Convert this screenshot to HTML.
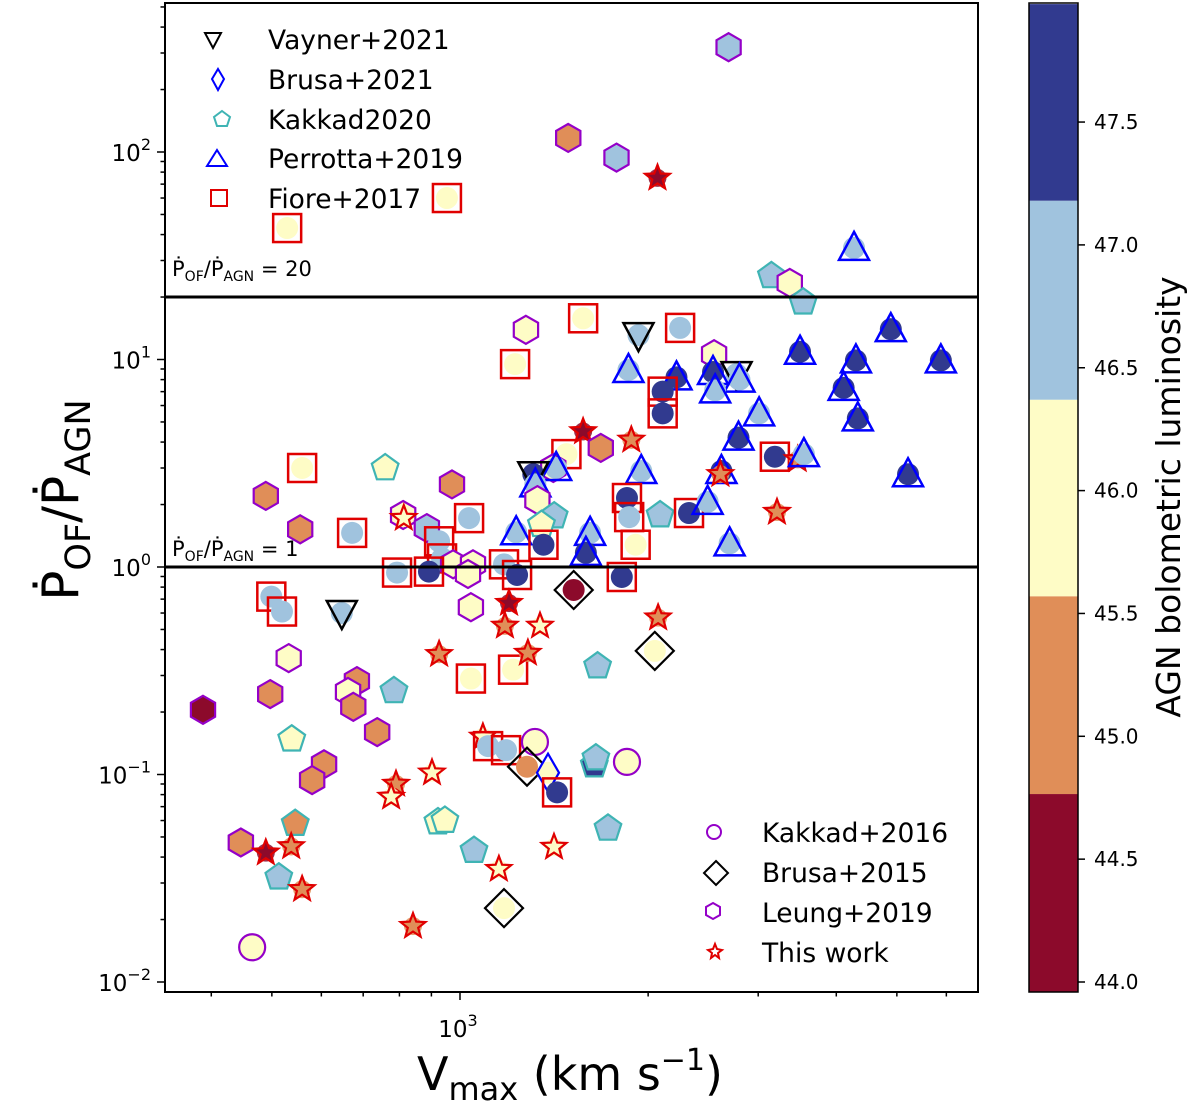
<!DOCTYPE html>
<html><head><meta charset="utf-8"><style>
body{margin:0;background:#fff;width:1200px;height:1109px;overflow:hidden}
svg{display:block;font-family:"DejaVu Sans","Liberation Sans",sans-serif}
</style></head><body>
<svg id="chart" width="1200" height="1109" viewBox="0 0 1200 1109">
<rect x="0" y="0" width="1200" height="1109" fill="#fff"/>
<g id="marks"></g>
<g id="axes"></g>
</svg>
<script>
const vmax=[2690,1490,1780,2070,953,529,4270,3150,3370,3540,1275,1574,1225,1930,2250,1860,2220,2550,2540,2770,2800,2560,2110,2110,3010,2790,3500,4300,4890,5880,4110,4330,5210,1574,1680,1880,1480,1410,1425,1310,1320,1330,1950,2620,2610,3190,3470,3550,1415,1350,1230,1615,1590,1360,1850,1865,2090,2325,2490,2700,3215,1910,1176,1234,1520,1815,1198,1180,1343,2075,559,759,489,971,555,672,811,813,885,1034,926,936,975,1049,1030,793,892,499,519,647,1041,532,497,388,684,662,675,737,784,538,606,580,926,1041,1088,902,790,776,545,922,946,1053,446,489,537,513,559,841,465,1216,1284,2050,1660,1109,1185,1318,1280,1383,1430,1640,1650,1850,1725,1414,1154,1176];
const ratio=[320,117,94,75,60,43,34.5,25.3,23.4,18.9,13.9,15.8,9.5,13.1,14.2,8.9,8.2,10.6,8.7,8.5,8.0,7.1,7.0,5.5,5.5,4.2,10.9,9.9,14.0,9.9,7.3,5.2,2.8,4.5,3.75,4.1,3.5,3.0,3.0,2.8,2.5,2.1,2.9,2.9,2.8,3.4,3.3,3.5,1.76,1.6,1.47,1.46,1.17,1.28,2.15,1.74,1.78,1.82,2.06,1.3,1.84,1.28,1.03,0.915,0.775,0.895,0.67,0.52,0.52,0.57,3.0,3.0,2.2,2.5,1.52,1.46,1.78,1.72,1.54,1.72,1.33,1.1,1.03,1.03,0.925,0.94,0.95,0.72,0.61,0.6,0.64,0.364,0.244,0.205,0.282,0.25,0.212,0.16,0.253,0.148,0.112,0.094,0.38,0.29,0.152,0.102,0.09,0.078,0.058,0.059,0.06,0.043,0.047,0.042,0.045,0.032,0.028,0.0186,0.0147,0.32,0.385,0.394,0.333,0.137,0.131,0.1435,0.109,0.102,0.082,0.111,0.12,0.115,0.055,0.0447,0.035,0.0227];
const sample=["hex","hex","hex","star","sq","sq","tri","pent","hex","pent","hex","sq","sq","vtri","sq","tri","tri","hex","tri","vtri","tri","tri","sq","sq","tri","tri","tri","tri","tri","tri","tri","tri","tri","star","hex","star","sq","hex","tri","vtri","tri","hex","tri","tri","star","sq","star","tri","pent","pent","tri","tri","tri","sq","sq","sq","pent","sq","tri","tri","star","sq","sq","sq","dia","sq","star","star","star","star","sq","pent","hex","hex","hex","sq","hex","star","hex","sq","sq","sq","hex","hex","hex","sq","sq","sq","sq","vtri","hex","hex","hex","hex","hex","hex","hex","hex","pent","pent","hex","hex","star","sq","star","star","star","star","pent","pent","pent","pent","hex","star","star","pent","star","star","circ","sq","star","dia","pent","sq","sq","circ","dia","dia2","sq","pent","pent","circ","pent","star","star","dia"];
const lum=[46.8,45.2,46.8,44.4,46.0,46.0,46.8,46.8,46.0,46.8,46.0,46.0,46.0,46.8,46.8,46.8,47.6,46.0,47.6,46.8,46.8,46.8,47.6,47.6,46.8,47.6,47.6,47.6,47.6,47.6,47.6,47.6,47.6,44.4,45.2,45.2,46.0,46.0,46.8,47.6,46.8,46.0,46.8,47.6,45.2,47.6,45.2,46.8,46.8,46.0,46.8,46.8,47.6,47.6,47.6,46.8,46.8,47.6,46.8,46.8,45.2,46.0,46.8,47.6,44.4,47.6,44.4,45.2,46.0,45.2,46.0,46.0,45.2,45.2,45.2,46.8,46.0,46.0,46.8,46.8,46.8,46.8,46.0,46.0,46.0,46.8,47.6,46.8,46.8,46.8,46.0,46.0,45.2,44.4,45.2,46.0,45.2,45.2,46.8,46.0,45.2,45.2,45.2,46.0,46.0,46.0,45.2,46.0,45.2,46.0,46.0,46.8,45.2,44.4,45.2,46.8,45.2,45.2,46.0,46.0,45.2,46.0,46.8,46.8,46.8,46.0,45.2,46.0,47.6,47.6,46.8,46.0,46.8,46.0,46.0,46.0];
const cbTicks=[44.0,44.5,45.0,45.5,46.0,46.5,47.0,47.5];
const cbBounds=[43.96,44.765,45.57,46.37,47.18,47.98];
const cbColors=["#8c0a2b","#e08e58","#fefcc6","#a0c3de","#313a8f"];

const NS="http://www.w3.org/2000/svg";
const X0=165,X1=978,Y0=3,Y1=992;
const xs=v=>460+625*(Math.log10(v)-3);
const ys=r=>567-207.5*Math.log10(r);
const lumColor=L=>{for(let i=0;i<5;i++){if(L<cbBounds[i+1])return cbColors[i];}return cbColors[4];};
const marks=document.getElementById('marks'),axes=document.getElementById('axes');
function el(tag,attrs,parent){const e=document.createElementNS(NS,tag);for(const k in attrs)e.setAttribute(k,attrs[k]);(parent||marks).appendChild(e);return e;}
function poly(cx,cy,n,r,rot){const p=[];for(let i=0;i<n;i++){const a=rot+i*2*Math.PI/n;p.push((cx+r*Math.cos(a)).toFixed(1)+","+(cy+r*Math.sin(a)).toFixed(1));}return p.join(" ");}
function starPts(cx,cy,ro,ri){const p=[];for(let i=0;i<10;i++){const r=i%2?ri:ro;const a=-Math.PI/2+i*Math.PI/5;p.push((cx+r*Math.cos(a)).toFixed(1)+","+(cy+r*Math.sin(a)).toFixed(1));}return p.join(" ");}
function shape(t,cx,cy,fill,s,parent){
  s=s||1;let e;
  if(t==="hex")e=el('polygon',{points:poly(cx,cy,6,14*s,-Math.PI/2),fill:fill,stroke:"#9400c8","stroke-width":2.2},parent);
  else if(t==="pent")e=el('polygon',{points:poly(cx,cy,5,14*s,-Math.PI/2),fill:fill,stroke:"#3fb4b4","stroke-width":2.2},parent);
  else if(t==="star")e=el('polygon',{points:starPts(cx,cy,13*s,5.5*s),fill:fill,stroke:"#e00000","stroke-width":2.2},parent);
  else if(t==="circ")e=el('circle',{cx:cx,cy:cy,r:13*s,fill:fill,stroke:"#9400c8","stroke-width":2.2},parent);
  else if(t==="dia")e=el('polygon',{points:poly(cx,cy,4,19*s,-Math.PI/2),fill:"none",stroke:"#000","stroke-width":2.2},parent);
  else if(t==="tri")e=el('polygon',{points:`${cx},${cy-16*s} ${cx+15*s},${cy+12*s} ${cx-15*s},${cy+12*s}`,fill:"none",stroke:"#0000ff","stroke-width":2.5},parent);
  else if(t==="vtri")e=el('polygon',{points:`${cx},${cy+16*s} ${cx+15*s},${cy-12*s} ${cx-15*s},${cy-12*s}`,fill:"none",stroke:"#000","stroke-width":2.5},parent);
  else if(t==="sq")e=el('rect',{x:cx-14*s,y:cy-14*s,width:28*s,height:28*s,fill:"none",stroke:"#e00000","stroke-width":2.5},parent);
  else if(t==="dia2")e=el('polygon',{points:`${cx},${cy-19*s} ${cx+11*s},${cy} ${cx},${cy+19*s} ${cx-11*s},${cy}`,fill:"none",stroke:"#0000ff","stroke-width":2.2},parent);
  return e;
}
const openTypes=["tri","vtri","sq","dia2","dia"];
for(let i=0;i<vmax.length;i++){
  const cx=xs(vmax[i]),cy=ys(ratio[i]),c=lumColor(lum[i]),t=sample[i];
  if(openTypes.includes(t)||t==="star"){
    const b=el('circle',{cx:cx,cy:cy,r:t==="star"?9:11,fill:c,opacity:t==="star"?0.85:1});
    
    
  }
  const m=shape(t,cx,cy,c);
  
  
}
[20,1].forEach(v=>{const l=el('line',{x1:X0,x2:X1,y1:ys(v),y2:ys(v),stroke:"#000","stroke-width":3},axes);

});
const fr=el('rect',{x:X0,y:Y0,width:X1-X0,height:Y1-Y0,fill:"none",stroke:"#000","stroke-width":2},axes);


for(let d=-2;d<=2;d++){
  for(let k=1;k<10;k++){const v=k*Math.pow(10,d);const y=ys(v);if(y<Y0||y>Y1)continue;
    el('line',{x1:X0,x2:X0-(k===1?8:4.5),y1:y,y2:y,stroke:"#000","stroke-width":1.5},axes);}
  const t=el('text',{x:X0-14,y:ys(Math.pow(10,d))+9,"text-anchor":"end","font-size":23},axes);
  t.innerHTML=`10<tspan dy="-11" font-size="16">${d}</tspan>`.replace(">-",">−");
  
  
}
[300,400,500,600,700,800,900,1000,2000,3000,4000,5000,6000].forEach(v=>{const x=xs(v);if(x<X0||x>X1)return;
  el('line',{x1:x,x2:x,y1:Y1,y2:Y1+(v===1000?8:4.5),stroke:"#000","stroke-width":1.5},axes);});
const xt=el('text',{x:xs(1000)-2,y:1037,"text-anchor":"middle","font-size":23},axes);
xt.innerHTML='10<tspan dy="-11" font-size="16">3</tspan>';


const CB0=1029,CB1=1078;
const cby=L=>982-245.7*(L-44.0);
for(let i=0;i<5;i++){const r=el('rect',{x:CB0,y:cby(cbBounds[i+1]),width:CB1-CB0,height:cby(cbBounds[i])-cby(cbBounds[i+1]),fill:cbColors[i]},axes);

}
const cbf=el('rect',{x:CB0,y:Y0,width:CB1-CB0,height:Y1-Y0,fill:"none",stroke:"#000","stroke-width":1.5},axes);


cbTicks.forEach(v=>{const y=cby(v);el('line',{x1:CB1,x2:CB1+7,y1:y,y2:y,stroke:"#000","stroke-width":1.5},axes);
const t=el('text',{x:CB1+16,y:y+7,"font-size":20},axes);t.textContent=v.toFixed(1);

});
</script>
<div style="position:absolute;left:0;top:0;width:1200px;height:1109px;pointer-events:none">
<svg width="1200" height="1109" style="position:absolute;left:0;top:0;font-family:'DejaVu Sans','Liberation Sans',sans-serif">
 <g font-size="26.5">
  <g><polygon points="205,33 221,33 213,48" fill="none" stroke="#000" stroke-width="2"/><text x="268" y="49">Vayner+2021</text></g>
  <g><polygon points="218,69 224,79 218,90 212,79" fill="none" stroke="#0000ff" stroke-width="2"/><text x="268" y="89">Brusa+2021</text></g>
  <g><polygon points="222,111 230,117 227,126 217,126 214,117" fill="none" stroke="#3fb4b4" stroke-width="2"/><text x="268" y="129">Kakkad2020</text></g>
  <g><polygon points="217,150 227,166 207,166" fill="none" stroke="#0000ff" stroke-width="2"/><text x="268" y="168">Perrotta+2019</text></g>
  <g><rect x="211" y="190" width="16" height="16" fill="none" stroke="#e00000" stroke-width="2"/><text x="268" y="208">Fiore+2017</text></g>
 </g>
 <g font-size="26.5">
  <g><circle cx="714" cy="832" r="7" fill="none" stroke="#9400c8" stroke-width="2"/><text x="762" y="842">Kakkad+2016</text></g>
  <g><polygon points="716,861 728,873 716,885 704,873" fill="none" stroke="#000" stroke-width="2"/><text x="762" y="882">Brusa+2015</text></g>
  <g><polygon points="713,903 720,907 720,915 713,919 706,915 706,907" fill="none" stroke="#9400c8" stroke-width="2"/><text x="762" y="922">Leung+2019</text></g>
  <g><polygon points="715,944 717,949 722,950 718,953 719,958 715,955 711,958 712,953 708,950 713,949" fill="none" stroke="#e00000" stroke-width="2"/><text x="762" y="962">This work</text></g>
 </g>
 <text x="172" y="276" font-size="21">Ṗ<tspan font-size="14" dy="5">OF</tspan><tspan dy="-5">/Ṗ</tspan><tspan font-size="14" dy="5">AGN</tspan><tspan dy="-5"> = 20</tspan></text>
 <text x="172" y="556" font-size="21">Ṗ<tspan font-size="14" dy="5">OF</tspan><tspan dy="-5">/Ṗ</tspan><tspan font-size="14" dy="5">AGN</tspan><tspan dy="-5"> = 1</tspan></text>
 <text transform="translate(78,500) rotate(-90)" text-anchor="middle" font-size="50">Ṗ<tspan font-size="35" dy="12">OF</tspan><tspan dy="-12">/Ṗ</tspan><tspan font-size="35" dy="12">AGN</tspan></text>
 <text x="570" y="1090" text-anchor="middle" font-size="46">V<tspan font-size="32" dy="10">max</tspan><tspan dy="-10"> (km s</tspan><tspan font-size="30" dy="-20">−1</tspan><tspan dy="20">)</tspan></text>
 <text transform="translate(1180,497) rotate(-90)" text-anchor="middle" font-size="33">AGN bolometric luminosity</text>
</svg>
</div>
</body></html>
